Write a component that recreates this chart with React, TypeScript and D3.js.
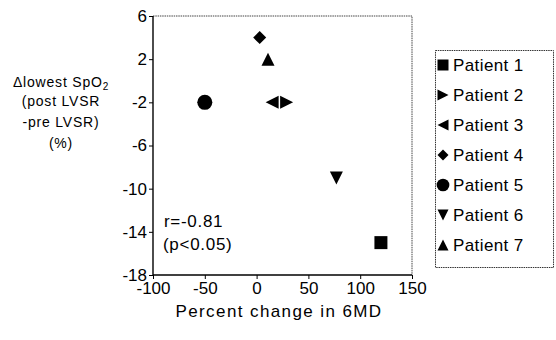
import { useEffect, useRef } from 'react'
import * as d3 from 'd3'

const patients = ['Patient 1', 'Patient 2', 'Patient 3', 'Patient 4', 'Patient 5', 'Patient 6', 'Patient 7']
const changeIn6MD = [120, 29, 15, 3, -50, 77, 11]
const deltaSpO2 = [-15, -2, -2, 4, -2, -9, 2]
const symbols = ['square', 'right', 'left', 'diamond', 'circle', 'down', 'up']
const xTicks = [-100, -50, 0, 50, 100, 150]
const yTicks = [6, 2, -2, -6, -10, -14, -18]

function markerPath(kind: string, s: number) {
  const h = s / 2
  switch (kind) {
    case 'square': return `M${-h},${-h}H${h}V${h}H${-h}Z`
    case 'right': return `M${-h},${-h}L${h},0L${-h},${h}Z`
    case 'left': return `M${h},${-h}L${-h},0L${h},${h}Z`
    case 'diamond': return `M0,${-h}L${h},0L0,${h}L${-h},0Z`
    case 'down': return `M${-h},${-h}H${h}L0,${h}Z`
    case 'up': return `M0,${-h}L${h},${h}H${-h}Z`
    default: return d3.symbol(d3.symbolCircle, s * s * 1.05)()!
  }
}

export default function App() {
  const ref = useRef<SVGSVGElement>(null)

  useEffect(() => {
    const svg = d3.select(ref.current!)
    svg.selectAll('*').remove()
    const font = 'Liberation Sans, Arial, sans-serif'

    const x = d3.scaleLinear().domain([-100, 150]).range([153, 412])
    const y = d3.scaleLinear().domain([-18, 6]).range([275, 16])

    // frame: top and right dotted
    svg.append('path').attr('d', `M${x(-100)},${y(6)}H${x(150)}V${y(-18)}`)
      .attr('fill', 'none').attr('stroke', '#444').attr('stroke-width', 1).attr('stroke-dasharray', '1.5,0.8')

    const ya = svg.append('g').attr('transform', `translate(${x(-100)},0)`)
      .call(d3.axisLeft(y).tickValues(yTicks).tickSize(4).tickPadding(2).tickFormat(d => String(d)))
    const xa = svg.append('g').attr('transform', `translate(0,${y(-18)})`)
      .call(d3.axisBottom(x).tickValues(xTicks).tickSize(4).tickPadding(3).tickFormat(d => String(d)))
    ;[ya, xa].forEach(a => {
      a.select('.domain').attr('stroke', '#000').attr('stroke-width', 1.4)
      a.selectAll('line').attr('stroke', '#000')
      a.selectAll('text').attr('font-family', font).attr('font-size', 17).attr('fill', '#000')
    })
    ya.select('.domain').attr('d', `M0,${y(6)}V${y(-18)}`)
    xa.select('.domain').attr('d', `M${x(-100)},0H${x(150)}`)

    // points
    patients.forEach((p, i) => {
      svg.append('path').attr('d', markerPath(symbols[i], 13))
        .attr('transform', `translate(${x(changeIn6MD[i])},${y(deltaSpO2[i])})`).attr('fill', '#000')
    })

    // annotation
    const ann = svg.append('g').attr('font-family', font).attr('font-size', 17).attr('letter-spacing', 0.7)
    ann.append('text').attr('x', 164).attr('y', 227).text('r=-0.81')
    ann.append('text').attr('x', 163).attr('y', 250).text('(p<0.05)')

    // x title
    svg.append('text').attr('x', 279).attr('y', 317).attr('text-anchor', 'middle')
      .attr('font-family', font).attr('font-size', 17).attr('letter-spacing', 1.4).text('Percent change in 6MD')

    // y title
    const yl = svg.append('g').attr('font-family', font).attr('font-size', 14)
      .attr('letter-spacing', 0.8).attr('text-anchor', 'middle')
    const t0 = yl.append('text').attr('x', 61).attr('y', 87)
    t0.append('tspan').text('\u0394lowest SpO')
    t0.append('tspan').attr('font-size', 10).attr('dy', 3).text('2')
    yl.append('text').attr('x', 61).attr('y', 106).text('(post LVSR')
    yl.append('text').attr('x', 61).attr('y', 127).text('-pre LVSR)')
    yl.append('text').attr('x', 61).attr('y', 148).text('(%)')

    // legend
    svg.append('rect').attr('x', 435.5).attr('y', 50.5).attr('width', 118).attr('height', 217)
      .attr('fill', 'none').attr('stroke', '#333').attr('stroke-dasharray', '1.5,0.8')
    const ly = d3.scalePoint().domain(patients).range([65, 245])
    patients.forEach((p, i) => {
      svg.append('path').attr('d', markerPath(symbols[i], 11))
        .attr('transform', `translate(443,${ly(p)})`).attr('fill', '#000')
      svg.append('text').attr('x', 453).attr('y', ly(p)! + 6).attr('font-family', font)
        .attr('font-size', 17).attr('letter-spacing', 0.4).text(p)
    })
  }, [])

  return <svg ref={ref} width={556} height={340} style={{ position: 'absolute', left: 0, top: 0 }} />
}
